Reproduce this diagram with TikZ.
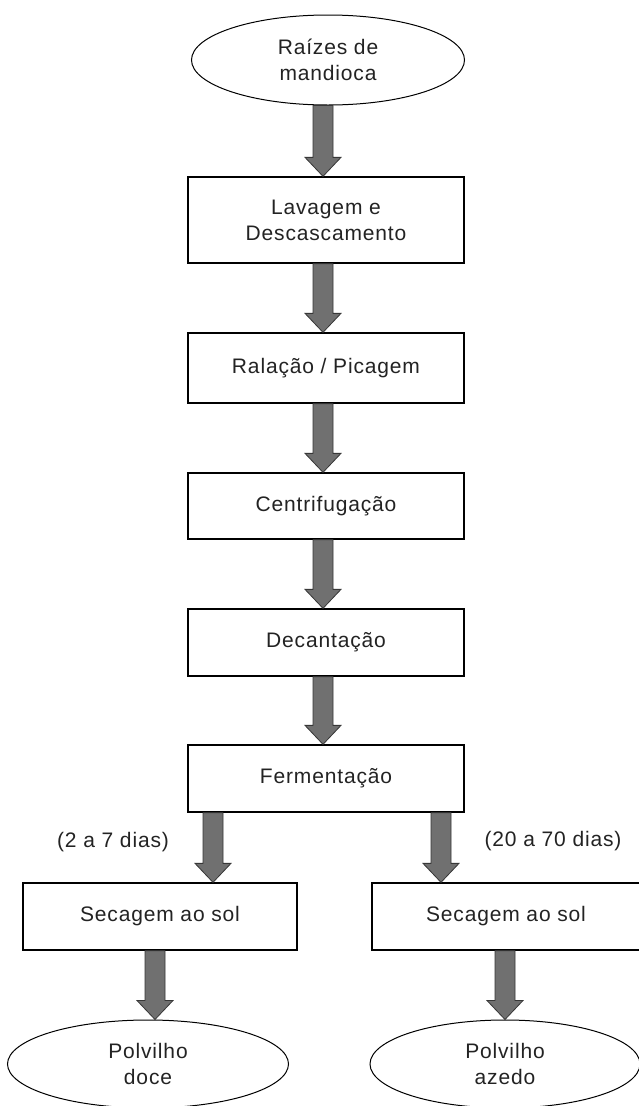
\documentclass[tikz,border=0pt]{standalone}
\usepackage{fontspec}
\setmainfont{Liberation Sans}[LetterSpace=4]
\usetikzlibrary{shapes.geometric,calc}
\definecolor{arrfill}{RGB}{112,112,112}
\definecolor{arrline}{RGB}{55,55,55}
\definecolor{txt}{RGB}{35,35,35}
\tikzset{
  x=1pt, y=-1pt,
  every node/.style={font=\fontsize{21}{26}\selectfont, text=txt},
  oval/.style={ellipse, draw=black, line width=1pt, minimum width=273pt, minimum height=90pt, inner sep=0pt, align=center},
  stepbox/.style={rectangle, draw=black, line width=1.3pt, minimum width=276pt, inner sep=0pt, align=center},
  fatarr/.style={fill=arrfill, draw=arrline, line width=0.8pt, line join=miter},
  lbl/.style={inner sep=0pt}
}
\newcommand\fatarrow[2]{%
  \path[fatarr] let \p1=(#1), \p2=(#2) in
    (\x1-10pt,\y1) -- (\x1+10pt,\y1) -- (\x1+10pt,\y2+19pt) -- (\x1+18pt,\y2+19pt)
    -- (\x1,\y2) -- (\x1-18pt,\y2+19pt) -- (\x1-10pt,\y2+19pt) -- cycle;}
\begin{document}
\begin{tikzpicture}
\fill[white] (0,0) rectangle (638,1106);
\useasboundingbox (0,0) rectangle (638,1106);

\node[oval] (raiz) at (328,60) {Raízes de\\mandioca};
\node[stepbox, minimum height=86pt] (lav) at (326,220) {Lavagem e\\Descascamento};
\node[stepbox, minimum height=70pt] (ral) at (326,368) {Ralação / Picagem};
\node[stepbox, minimum height=66pt] (cen) at (326,506) {Centrifugação};
\node[stepbox, minimum height=67pt] (dec) at (326,642.5) {Decantação};
\node[stepbox, minimum height=67pt] (fer) at (326,778.5) {Fermentação};
\node[stepbox, minimum height=67pt, minimum width=274pt] (secL) at (160,916.5) {Secagem ao sol};
\node[stepbox, minimum height=67pt, minimum width=268pt] (secR) at (506,916.5) {Secagem ao sol};
\node[oval, minimum width=281pt, minimum height=88pt] (doce) at (148,1064) {Polvilho\\doce};
\node[oval, minimum width=270pt, minimum height=88pt] (azedo) at (505,1064) {Polvilho\\azedo};

\node[lbl] (dL) at (113,842) {(2 a 7 dias)};
\node[lbl] (dR) at (553,841) {(20 a 70 dias)};

\coordinate (ax) at (323,0);
\coordinate (bl) at (213,0);
\coordinate (br) at (441,0);
\coordinate (cl) at (155,0);
\coordinate (cr) at (505,0);

\fatarrow{raiz.south -| ax}{lav.north}
\fatarrow{lav.south -| ax}{ral.north}
\fatarrow{ral.south -| ax}{cen.north}
\fatarrow{cen.south -| ax}{dec.north}
\fatarrow{dec.south -| ax}{fer.north}
\fatarrow{fer.south -| bl}{secL.north}
\fatarrow{fer.south -| br}{secR.north}
\fatarrow{secL.south -| cl}{doce.north}
\fatarrow{secR.south -| cr}{azedo.north}
\end{tikzpicture}
\end{document}
